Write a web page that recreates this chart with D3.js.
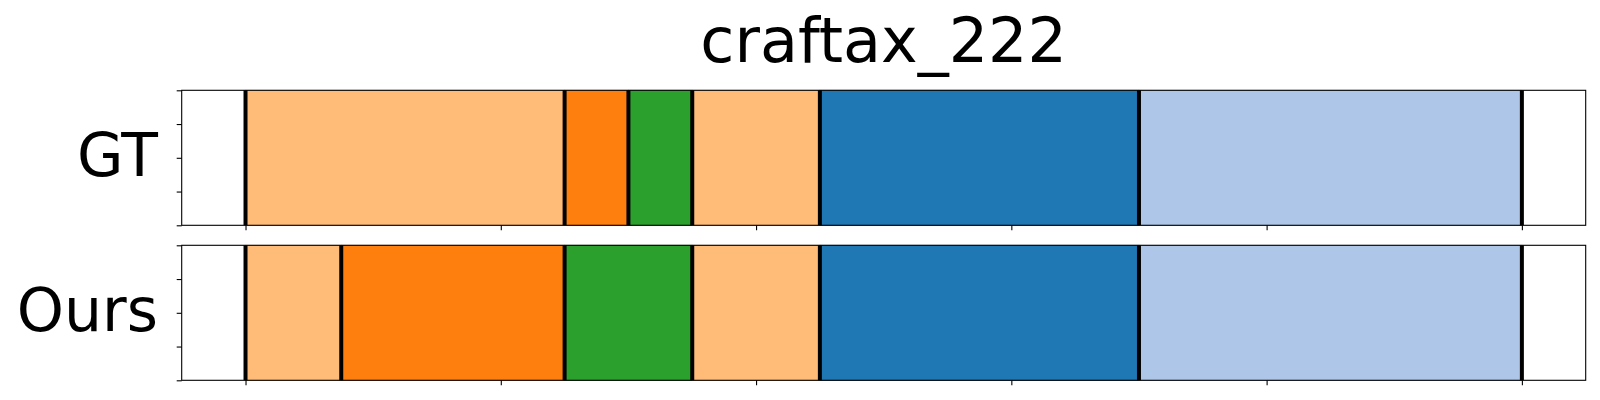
<!DOCTYPE html>
<html>
<head>
<meta charset="utf-8">
<script src="https://cdn.jsdelivr.net/npm/d3@7"></script>
<style>
  body { margin: 0; background: #fff; }
  svg { display: block; }
  text { font-family: "DejaVu Sans", sans-serif; fill: #000; }
</style>
</head>
<body>
<svg id="chart" width="1600" height="400"></svg>
<script>
// ---- data ----
const title = "craftax_222";
const rowLabels = ["GT", "Ours"];
const totalSteps = 40;
// segment boundaries (in steps) and their phase labels
const gtBounds = [0, 10, 12, 14, 18, 28, 40];
const gtPhases = ["p1", "p2", "p3", "p1", "p4", "p5"];
const oursBounds = [0, 3, 10, 14, 18, 28, 40];
const oursPhases = ["p1", "p2", "p3", "p1", "p4", "p5"];
const phaseKeys = ["p1", "p2", "p3", "p4", "p5"];
const phaseColors = ["#ffbb78", "#ff7f0e", "#2ca02c", "#1f77b4", "#aec7e8"];
const xTicks = [0, 8, 16, 24, 32, 40];
const yTicks = [0, 0.25, 0.5, 0.75, 1];

// ---- layout ----
const svg = d3.select("#chart");
const left = 181.7, right = 1585.7;
const panels = [
  { label: rowLabels[0], bounds: gtBounds, phases: gtPhases, top: 90.3, bottom: 225.3 },
  { label: rowLabels[1], bounds: oursBounds, phases: oursPhases, top: 245.3, bottom: 380.3 }
];

const x = d3.scaleLinear()
  .domain([-0.05 * totalSteps, 1.05 * totalSteps])
  .range([left, right]);
const color = d3.scaleOrdinal().domain(phaseKeys).range(phaseColors);

svg.append("text")
  .attr("x", (left + right) / 2)
  .attr("y", 62)
  .attr("text-anchor", "middle")
  .style("font-size", "62px")
  .text(title);

panels.forEach(p => {
  const y = d3.scaleLinear().domain([0, 1]).range([p.bottom, p.top]);
  const g = svg.append("g");

  const segs = p.phases.map((ph, i) => ({ ph, a: p.bounds[i], b: p.bounds[i + 1] }));
  g.selectAll("rect.seg").data(segs).enter().append("rect")
    .attr("class", "seg")
    .attr("x", d => x(d.a))
    .attr("width", d => x(d.b) - x(d.a))
    .attr("y", y(1))
    .attr("height", y(0) - y(1))
    .attr("fill", d => color(d.ph))
    .attr("stroke", d => d3.color(color(d.ph)).darker(0.4))
    .attr("stroke-width", 0.8);

  g.selectAll("line.bnd").data(p.bounds).enter().append("line")
    .attr("class", "bnd")
    .attr("x1", d => x(d)).attr("x2", d => x(d))
    .attr("y1", y(0)).attr("y2", y(1))
    .attr("stroke", "#000")
    .attr("stroke-width", 4);

  // axes
  const xAxis = d3.axisBottom(x).tickValues(xTicks).tickFormat("").tickSize(5).tickSizeOuter(0);
  const gx = g.append("g").attr("transform", `translate(0,${p.bottom})`).call(xAxis);
  gx.select(".domain").remove();
  gx.selectAll("line").attr("stroke", "#000").attr("stroke-width", 1.1);

  const yAxis = d3.axisLeft(y).tickValues(yTicks).tickFormat("").tickSize(5).tickSizeOuter(0);
  const gy = g.append("g").attr("transform", `translate(${left},0)`).call(yAxis);
  gy.select(".domain").remove();
  gy.selectAll("line").attr("stroke", "#000").attr("stroke-width", 1.1);

  // frame
  g.append("rect")
    .attr("x", left).attr("y", p.top)
    .attr("width", right - left).attr("height", p.bottom - p.top)
    .attr("fill", "none").attr("stroke", "#000").attr("stroke-width", 1.1);

  g.append("text")
    .attr("x", 158)
    .attr("y", (p.top + p.bottom) / 2 + 18)
    .attr("text-anchor", "end")
    .style("font-size", "60px")
    .text(p.label);
});
</script>
</body>
</html>
